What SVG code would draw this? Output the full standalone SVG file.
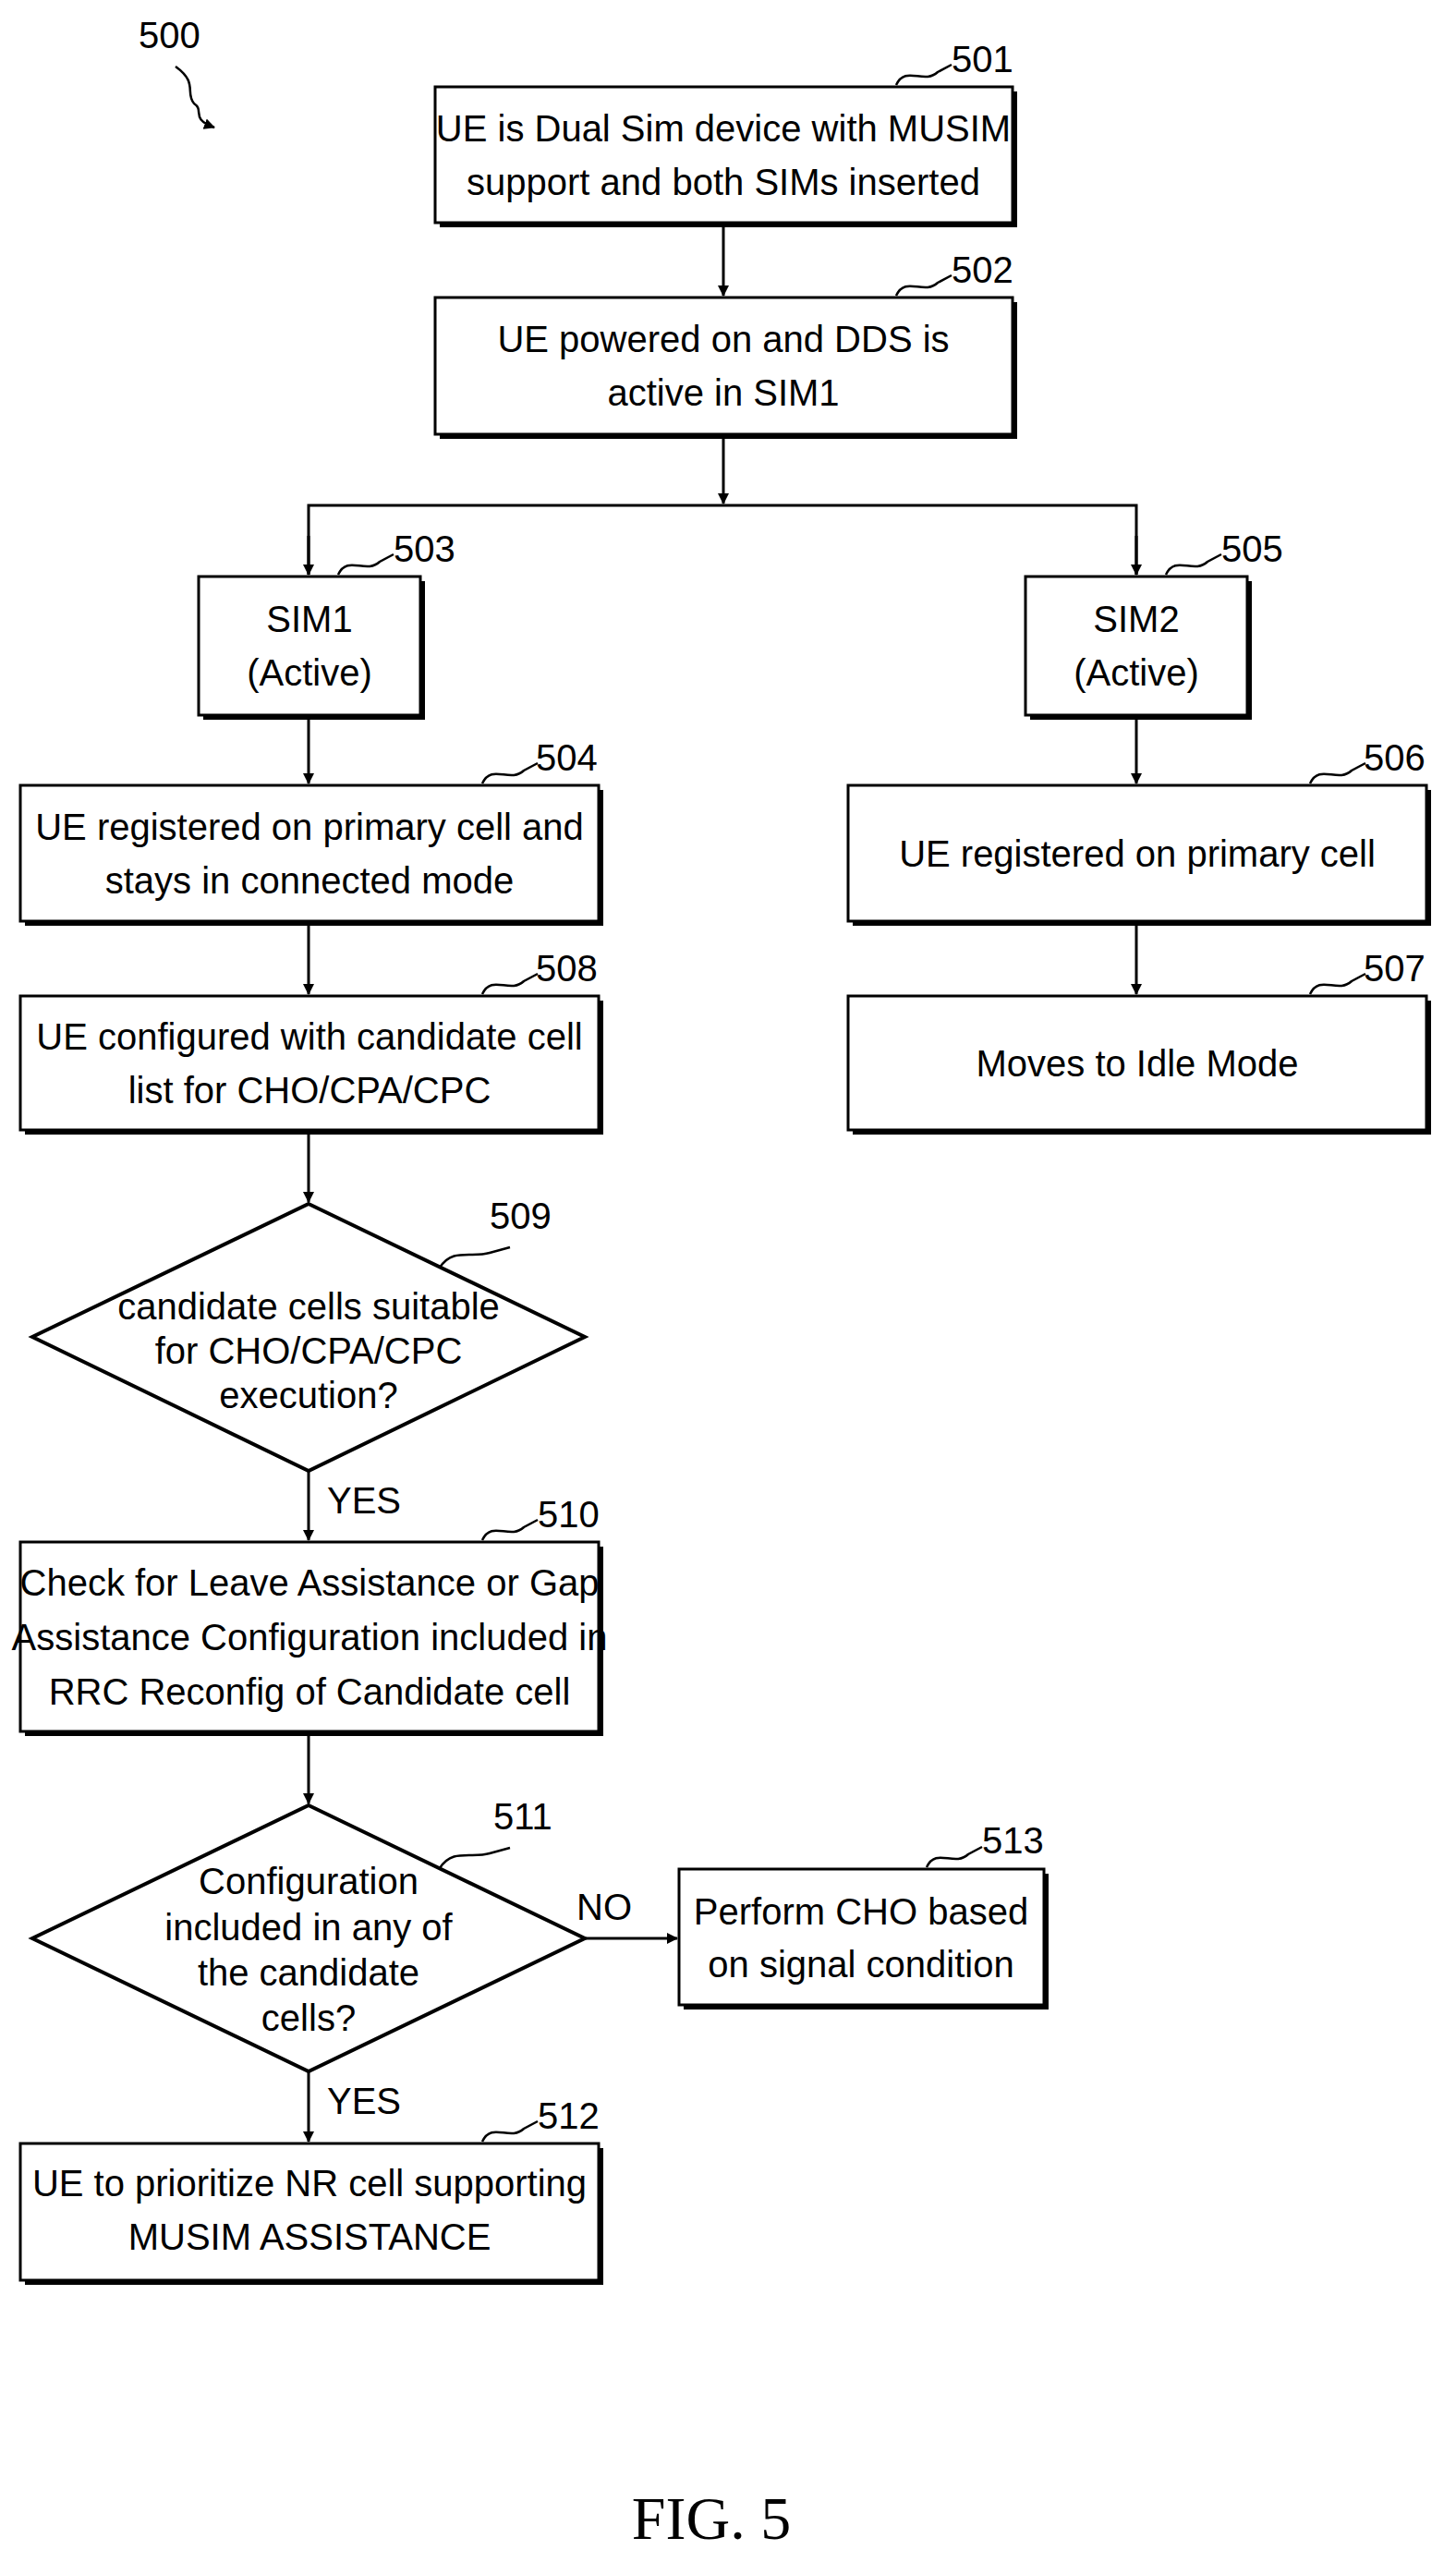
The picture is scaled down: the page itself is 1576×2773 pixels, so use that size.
<svg xmlns="http://www.w3.org/2000/svg" width="1576" height="2773" viewBox="0 0 1576 2773">
<defs>
<marker id="ah" markerWidth="12" markerHeight="12" refX="11" refY="6" orient="auto" markerUnits="userSpaceOnUse"><path d="M0,0 L12,6 L0,12 Z" fill="#000"/></marker>
<style>
.sh{fill:#000}
.bx{fill:#fff;stroke:#000;stroke-width:3}
.t{font-family:"Liberation Sans Narrow","Liberation Sans",Arial,sans-serif;font-size:40px;text-anchor:middle;fill:#000}
.n{font-family:"Liberation Sans Narrow","Liberation Sans",Arial,sans-serif;font-size:40px;fill:#000}
.ln{fill:none;stroke:#000;stroke-width:3}
.sq{fill:none;stroke:#000;stroke-width:2.5}
</style>
</defs>
<rect width="1576" height="2773" fill="#fff"/>
<g id="ref500"><text class="n" x="150" y="52">500</text><path class="sq" d="M190,72 C215,90 200,100 210,112 C222,120 205,128 232,138" marker-end="url(#ah)"/></g>
<g id="n501"><rect class="sh" x="476" y="99" width="625" height="147"/><rect class="bx" x="471" y="94" width="625" height="147"/><text class="t" x="783" y="153">UE is Dual Sim device with MUSIM</text><text class="t" x="783" y="211">support and both SIMs inserted</text><path class="sq" d="M970,92 C980,70 1000,92 1015,78 L1030,70"/><text class="n" x="1030" y="78">501</text></g>
<g id="n502"><rect class="sh" x="476" y="327" width="625" height="148"/><rect class="bx" x="471" y="322" width="625" height="148"/><text class="t" x="783" y="381">UE powered on and DDS is</text><text class="t" x="783" y="439">active in SIM1</text><path class="sq" d="M970,320 C980,298 1000,320 1015,306 L1030,298"/><text class="n" x="1030" y="306">502</text></g>
<g id="n503"><rect class="sh" x="220" y="629" width="240" height="150"/><rect class="bx" x="215" y="624" width="240" height="150"/><text class="t" x="335" y="684">SIM1</text><text class="t" x="335" y="742">(Active)</text><path class="sq" d="M366,622 C376,600 396,622 411,608 L426,600"/><text class="n" x="426" y="608">503</text></g>
<g id="n505"><rect class="sh" x="1115" y="629" width="240" height="150"/><rect class="bx" x="1110" y="624" width="240" height="150"/><text class="t" x="1230" y="684">SIM2</text><text class="t" x="1230" y="742">(Active)</text><path class="sq" d="M1262,622 C1272,600 1292,622 1307,608 L1322,600"/><text class="n" x="1322" y="608">505</text></g>
<g id="n504"><rect class="sh" x="27" y="855" width="626" height="147"/><rect class="bx" x="22" y="850" width="626" height="147"/><text class="t" x="335" y="909">UE registered on primary cell and</text><text class="t" x="335" y="967">stays in connected mode</text><path class="sq" d="M522,848 C532,826 552,848 567,834 L582,826"/><text class="n" x="580" y="834">504</text></g>
<g id="n506"><rect class="sh" x="923" y="855" width="626" height="147"/><rect class="bx" x="918" y="850" width="626" height="147"/><text class="t" x="1231" y="938">UE registered on primary cell</text><path class="sq" d="M1418,848 C1428,826 1448,848 1463,834 L1478,826"/><text class="n" x="1476" y="834">506</text></g>
<g id="n508"><rect class="sh" x="27" y="1083" width="626" height="145"/><rect class="bx" x="22" y="1078" width="626" height="145"/><text class="t" x="335" y="1136">UE configured with candidate cell</text><text class="t" x="335" y="1194">list for CHO/CPA/CPC</text><path class="sq" d="M522,1076 C532,1054 552,1076 567,1062 L582,1054"/><text class="n" x="580" y="1062">508</text></g>
<g id="n507"><rect class="sh" x="923" y="1083" width="626" height="145"/><rect class="bx" x="918" y="1078" width="626" height="145"/><text class="t" x="1231" y="1165">Moves to Idle Mode</text><path class="sq" d="M1418,1076 C1428,1054 1448,1076 1463,1062 L1478,1054"/><text class="n" x="1476" y="1062">507</text></g>
<g id="n509"><polygon points="334,1303 633,1447 334,1592 35,1447" fill="#fff" stroke="#000" stroke-width="4"/><text class="t" x="334" y="1428">candidate cells suitable</text><text class="t" x="334" y="1476">for CHO/CPA/CPC</text><text class="t" x="334" y="1524">execution?</text><path class="sq" d="M476,1372 C490,1350 510,1362 530,1356 L552,1350"/><text class="n" x="530" y="1330">509</text></g>
<g id="n510"><rect class="sh" x="27" y="1674" width="626" height="205"/><rect class="bx" x="22" y="1669" width="626" height="205"/><text class="t" x="335" y="1727">Check for Leave Assistance or Gap</text><text class="t" x="335" y="1786">Assistance Configuration included in</text><text class="t" x="335" y="1845">RRC Reconfig of Candidate cell</text><path class="sq" d="M522,1667 C532,1645 552,1667 567,1653 L582,1645"/><text class="n" x="582" y="1653">510</text></g>
<g id="n511"><polygon points="334,1954 633,2098 334,2242 35,2098" fill="#fff" stroke="#000" stroke-width="4"/><text class="t" x="334" y="2050">Configuration</text><text class="t" x="334" y="2100">included in any of</text><text class="t" x="334" y="2149">the candidate</text><text class="t" x="334" y="2198">cells?</text><path class="sq" d="M476,2022 C490,2000 510,2012 530,2006 L552,2000"/><text class="n" x="534" y="1980">511</text></g>
<g id="n513"><rect class="sh" x="740" y="2028" width="395" height="147"/><rect class="bx" x="735" y="2023" width="395" height="147"/><text class="t" x="932" y="2083">Perform CHO based</text><text class="t" x="932" y="2140">on signal condition</text><path class="sq" d="M1003,2021 C1013,1999 1033,2021 1048,2007 L1063,1999"/><text class="n" x="1063" y="2006">513</text></g>
<g id="n512"><rect class="sh" x="27" y="2325" width="626" height="148"/><rect class="bx" x="22" y="2320" width="626" height="148"/><text class="t" x="335" y="2377">UE to prioritize NR cell supporting</text><text class="t" x="335" y="2435">MUSIM ASSISTANCE</text><path class="sq" d="M522,2318 C532,2296 552,2318 567,2304 L582,2296"/><text class="n" x="582" y="2304">512</text></g>
<g id="connectors">
<line class="ln" x1="783" y1="241" x2="783" y2="320" marker-end="url(#ah)"/>
<line class="ln" x1="783" y1="470" x2="783" y2="545" marker-end="url(#ah)"/>
<polyline class="ln" points="334,622 334,547 1230,547 1230,622"/>
<line class="ln" x1="334" y1="580" x2="334" y2="622" marker-end="url(#ah)"/>
<line class="ln" x1="1230" y1="580" x2="1230" y2="622" marker-end="url(#ah)"/>
<line class="ln" x1="334" y1="774" x2="334" y2="848" marker-end="url(#ah)"/>
<line class="ln" x1="1230" y1="774" x2="1230" y2="848" marker-end="url(#ah)"/>
<line class="ln" x1="334" y1="997" x2="334" y2="1076" marker-end="url(#ah)"/>
<line class="ln" x1="1230" y1="997" x2="1230" y2="1076" marker-end="url(#ah)"/>
<line class="ln" x1="334" y1="1223" x2="334" y2="1301" marker-end="url(#ah)"/>
<line class="ln" x1="334" y1="1592" x2="334" y2="1667" marker-end="url(#ah)"/>
<text class="n" x="354" y="1638">YES</text>
<line class="ln" x1="334" y1="1874" x2="334" y2="1952" marker-end="url(#ah)"/>
<line class="ln" x1="633" y1="2098" x2="733" y2="2098" marker-end="url(#ah)"/>
<text class="n" x="624" y="2078">NO</text>
<line class="ln" x1="334" y1="2242" x2="334" y2="2318" marker-end="url(#ah)"/>
<text class="n" x="354" y="2288">YES</text>
</g>
<text x="770" y="2748" font-family="'Liberation Serif',serif" font-size="66" text-anchor="middle">FIG. 5</text>
</svg>
